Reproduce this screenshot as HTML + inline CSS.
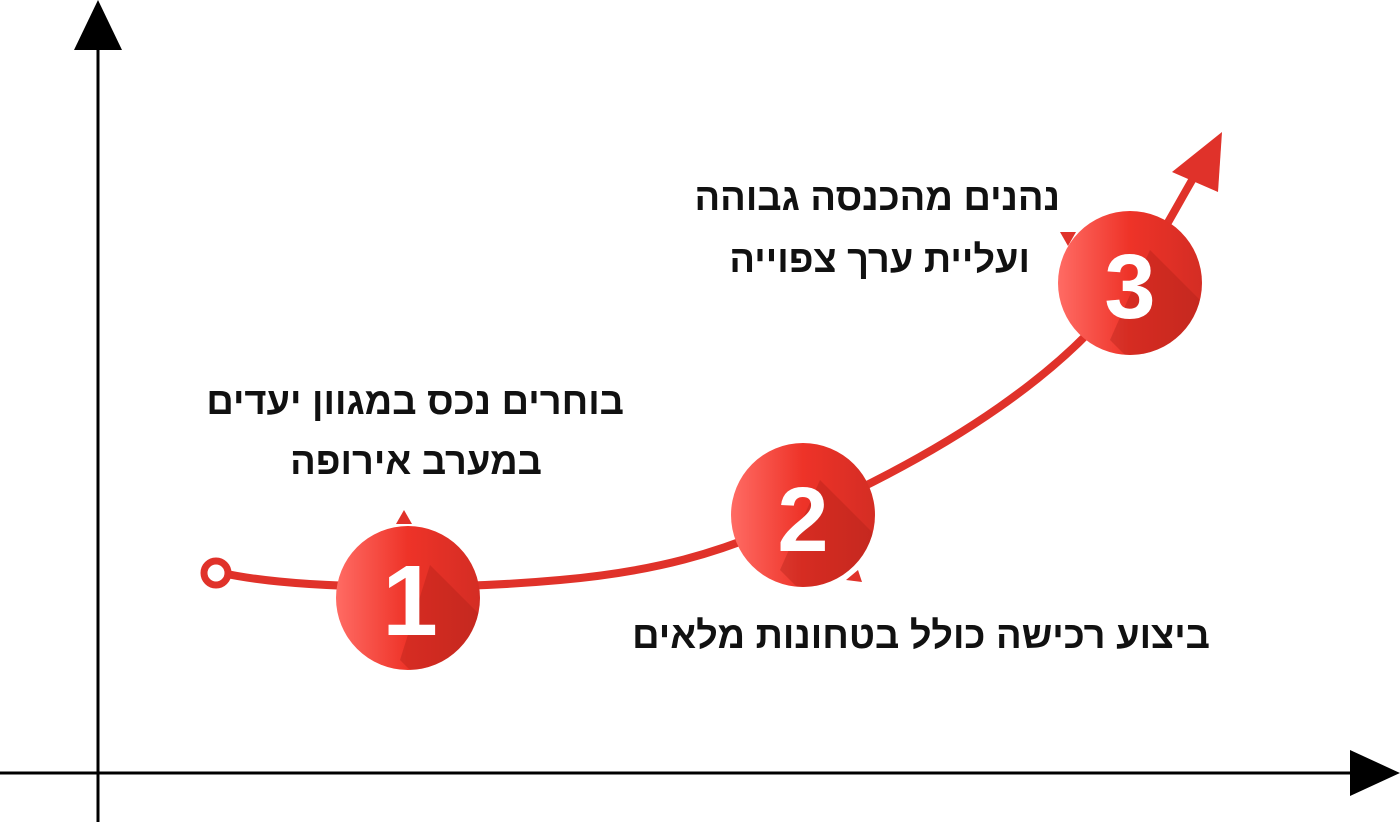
<!DOCTYPE html>
<html><head><meta charset="utf-8"><style>
html,body{margin:0;padding:0;background:#fff;}
.t{position:absolute;font-family:"Liberation Sans","DejaVu Sans",sans-serif;font-weight:bold;font-size:38px;color:#111;direction:rtl;white-space:nowrap;line-height:1;}
</style></head><body>
<div style="position:relative;width:1400px;height:822px;overflow:hidden;">
<svg width="1400" height="822" style="position:absolute;left:0;top:0">
<defs>
<linearGradient id="g" x1="0" x2="1" y1="0" y2="0">
<stop offset="0" stop-color="#ff6b64"/><stop offset="0.5" stop-color="#ee3328"/><stop offset="1" stop-color="#d42d24"/>
</linearGradient>
<clipPath id="c1"><circle cx="408" cy="598" r="72"/></clipPath>
<clipPath id="c2"><circle cx="803" cy="515" r="72"/></clipPath>
<clipPath id="c3"><circle cx="1130" cy="283" r="72"/></clipPath>
</defs>
<line x1="98" y1="40" x2="98" y2="822" stroke="#000" stroke-width="3"/>
<polygon points="98,0 74,50 122,50" fill="#000"/>
<line x1="0" y1="773" x2="1360" y2="773" stroke="#000" stroke-width="3"/>
<polygon points="1400,773 1350,750 1350,796" fill="#000"/>
<path d="M222,573 C300,590 450,590 560,580 C650,572 720,555 803,515 C950,450 1070,370 1130,283 C1160,240 1180,200 1198,170" fill="none" stroke="#e0322a" stroke-width="8"/>
<polygon points="1222,132 1172,172 1218,192" fill="#e0322a"/>
<circle cx="216" cy="573" r="12" fill="#fff" stroke="#e0322a" stroke-width="7"/>
<polygon points="404,510 396,524 412,524" fill="#e0322a"/>
<polygon points="858,570 846,580 862,582" fill="#e0322a"/>
<polygon points="1060,232 1076,232 1068,246" fill="#e0322a"/>
<circle cx="408" cy="598" r="72" fill="url(#g)"/>
<circle cx="803" cy="515" r="72" fill="url(#g)"/>
<circle cx="1130" cy="283" r="72" fill="url(#g)"/>
<polygon clip-path="url(#c1)" points="430,565 520,655 520,700 440,700 400,660" fill="#a82018" opacity="0.35"/>
<polygon clip-path="url(#c2)" points="820,480 910,570 910,620 830,620 780,570" fill="#a82018" opacity="0.35"/>
<polygon clip-path="url(#c3)" points="1150,250 1240,340 1240,390 1160,390 1110,340" fill="#a82018" opacity="0.35"/>
<g font-family="Liberation Sans,sans-serif" font-weight="bold" fill="#fff" text-anchor="middle">
<text x="410" y="635" font-size="100">1</text>
<text x="803" y="551" font-size="92">2</text>
<text x="1130" y="318" font-size="92">3</text>
</g>
</svg>
<div class="t" style="right:340px;top:179px;">נהנים מהכנסה גבוהה</div>
<div class="t" style="right:370px;top:241px;">ועליית ערך צפוייה</div>
<div class="t" style="right:776px;top:383px;">בוחרים נכס במגוון יעדים</div>
<div class="t" style="right:858px;top:443px;">במערב אירופה</div>
<div class="t" style="right:190px;top:617px;">ביצוע רכישה כולל בטחונות מלאים</div>
</div>
</body></html>
